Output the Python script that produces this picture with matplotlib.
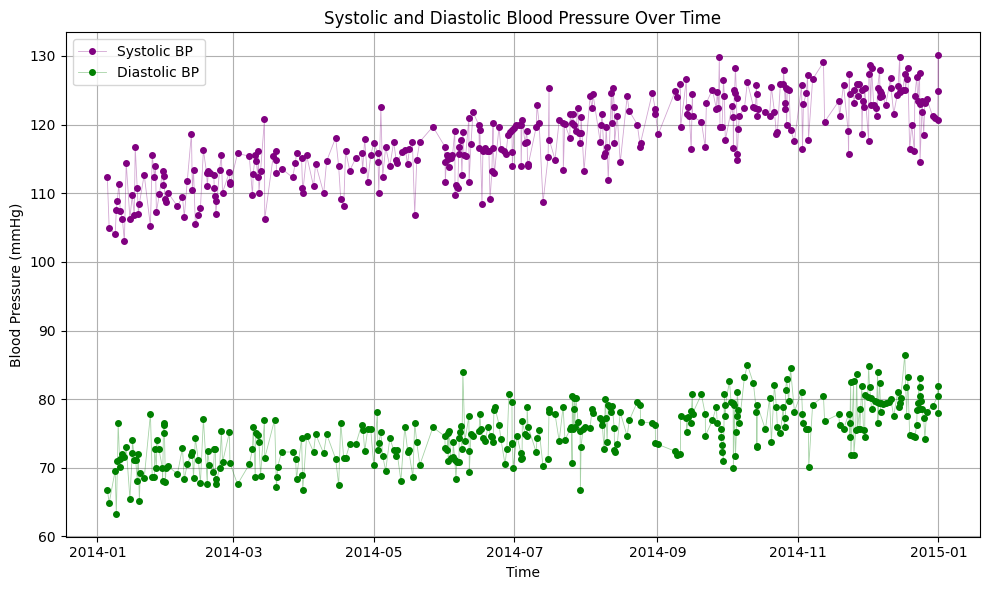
import matplotlib
matplotlib.use("Agg")
import matplotlib.pyplot as plt
import pandas as pd

# Day offsets from 2014-01-01 and readings (mmHg)
sys_days = [4.3, 5.1, 7.7, 8.2, 8.6, 9.3, 9.9, 10.8, 11.7, 12.5, 14.1, 15.1, 16.0, 16.4, 17.3, 17.8, 18.2,
            20.3, 23.0, 23.8, 24.7, 25.2, 25.6, 26.9, 28.3, 28.6, 28.9, 29.3, 29.8, 30.8, 34.7, 36.9, 37.7,
            39.0, 40.8, 41.2, 41.7, 42.5, 43.8, 44.7, 46.0, 47.4, 47.7, 48.2, 48.9, 50.5, 50.7, 51.1, 51.3,
            51.4, 53.0, 53.8, 54.3, 57.3, 57.5, 57.6, 60.8, 65.9, 67.3, 67.6, 68.5, 68.9, 69.7, 69.8, 70.1,
            70.8, 72.5, 72.6, 76.3, 77.4, 77.6, 77.7, 79.9, 84.7, 85.9, 86.4, 88.6, 89.0, 89.1, 90.8, 93.8,
            94.7, 98.2, 99.5, 103.4, 104.7, 105.6, 106.9, 107.7, 109.5, 112.1, 114.7, 115.1, 116.0, 117.3,
            118.6, 119.9, 121.7, 121.8, 122.1, 123.0, 123.8, 125.1, 126.9, 128.6, 129.6, 130.0, 132.2, 133.7,
            134.6, 135.4, 136.7, 137.7, 138.6, 139.9, 145.6, 150.8, 150.9, 151.0, 151.5, 152.0, 152.4, 153.3,
            154.1, 155.1, 155.2, 155.7, 156.1, 156.4, 156.9, 157.0, 157.7, 158.2, 158.6, 159.1, 159.8, 161.2,
            161.3, 162.1, 163.0, 165.6, 165.7, 166.0, 166.9, 167.3, 168.2, 169.1, 169.9, 170.4, 171.2, 171.7,
            171.8, 172.3, 174.3, 175.1, 176.4, 177.3, 178.2, 179.0, 179.9, 180.0, 180.1, 180.8, 181.7, 183.0,
            183.8, 183.9, 184.3, 185.6, 186.4, 186.5, 186.7, 187.0, 190.4, 190.8, 191.7, 193.4, 195.6, 196.0,
            196.1, 198.6, 200.4, 202.1, 202.2, 202.8, 205.0, 205.2, 205.9, 206.3, 206.7, 207.6, 208.5, 208.9,
            209.5, 209.8, 209.9, 211.2, 213.8, 214.7, 215.1, 218.2, 218.6, 219.0, 219.9, 220.4, 220.8, 221.2,
            221.7, 223.0, 223.4, 223.8, 224.3, 224.4, 225.6, 226.9, 229.9, 230.8, 234.3, 235.6, 235.7, 240.8,
            242.1, 242.2, 243.4, 250.8, 251.7, 253.0, 253.1, 255.6, 255.7, 256.4, 256.9, 257.7, 258.2, 258.3,
            262.1, 263.8, 264.3, 266.9, 268.6, 269.0, 269.5, 269.9, 270.2, 271.1, 271.7, 272.1, 272.5, 275.4,
            275.9, 276.0, 276.4, 276.5, 276.9, 277.4, 277.5, 277.6, 278.2, 278.6, 280.8, 282.1, 284.7, 285.6,
            286.0, 286.1, 286.4, 286.7, 289.9, 291.7, 292.5, 293.8, 294.7, 295.1, 296.4, 297.6, 297.8, 298.5,
            298.6, 298.7, 299.1, 299.4, 300.2, 300.8, 302.5, 305.6, 306.0, 306.4, 307.7, 308.2, 308.6, 310.4,
            315.1, 315.6, 321.7, 322.1, 323.8, 325.8, 326.0, 326.3, 326.4, 328.2, 328.3, 329.5, 329.9, 330.5,
            331.7, 331.8, 332.1, 332.5, 333.0, 334.7, 334.8, 335.1, 335.6, 336.0, 336.9, 337.7, 338.2, 338.6,
            339.5, 339.6, 339.8, 340.2, 340.7, 342.1, 344.3, 344.4, 345.6, 347.1, 347.5, 348.2, 348.3, 349.5,
            350.4, 350.7, 351.2, 351.7, 352.5, 353.4, 354.6, 354.7, 355.6, 356.0, 356.8, 356.9, 357.0, 357.8,
            357.9, 358.6, 359.1, 359.9, 362.5, 363.4, 364.7, 364.9, 365.0]
sys_vals = [112.3, 104.9, 104.0, 107.5, 108.9, 111.3, 107.4, 106.3, 103.0, 114.4, 106.3, 109.7, 106.8, 116.8, 110.7, 107.0, 108.5,
            112.7, 105.2, 115.6, 112.4, 114.0, 107.3, 109.9, 113.3, 111.2, 112.5, 109.2, 108.7, 110.0, 108.1, 109.5, 106.6,
            111.8, 118.7, 110.5, 113.4, 105.5, 106.8, 107.8, 116.3, 112.9, 111.1, 113.2, 112.9, 112.7, 110.8, 109.6, 108.9,
            107.0, 113.4, 115.6, 110.1, 113.1, 111.6, 111.3, 115.8, 115.4, 109.7, 112.8, 115.5, 114.7, 112.3, 116.2, 110.1,
            113.2, 120.8, 106.2, 115.4, 116.2, 114.9, 113.0, 113.6, 112.3, 114.4, 115.8, 115.1, 110.8, 110.1, 115.5, 111.0,
            114.3, 110.0, 114.7, 118.1, 113.9, 109.1, 108.2, 116.2, 113.3, 115.1, 115.8, 113.4, 117.9, 111.7,
            115.5, 117.3, 115.8, 114.6, 110.0, 122.5, 112.4, 116.7, 113.9, 117.5, 114.9, 114.4, 116.0, 116.3,
            114.2, 116.5, 117.4, 106.9, 114.9, 117.5, 119.7, 116.8, 114.6, 111.6, 115.5, 115.0, 113.8, 115.1,
            115.5, 119.1, 109.8, 111.2, 110.9, 110.7, 116.8, 115.7, 117.8, 112.6, 118.9, 115.6, 115.4, 120.9,
            111.7, 117.1, 121.8, 119.9, 116.6, 119.2, 108.5, 116.1, 116.6, 116.1, 116.1, 109.1, 113.2, 120.2,
            116.6, 112.9, 119.7, 116.5, 116.2, 115.7, 118.5, 118.9, 119.2, 116.0, 113.9, 119.5, 119.9, 120.0,
            120.0, 113.9, 120.7, 117.3, 119.1, 117.5, 113.9, 114.2, 119.6, 122.9, 120.2, 108.7, 115.3, 125.4,
            117.8, 114.9, 120.6, 120.2, 113.4, 120.1, 118.1, 121.5, 120.2, 121.6, 120.0, 119.0, 122.4, 118.8,
            117.3, 118.8, 121.1, 113.3, 124.1, 122.4, 124.4, 117.5, 120.0, 121.5, 115.4, 115.8, 119.7, 116.8,
            112.0, 124.6, 120.3, 125.3, 122.6, 117.3, 121.3, 114.5, 124.1, 122.0, 120.0, 116.8, 117.3, 124.6,
            122.3, 121.5, 118.6, 124.9, 124.0, 125.9, 119.6, 126.6, 121.5, 122.5, 121.3, 116.4, 124.5, 121.2,
            120.4, 116.7, 123.2, 125.1, 122.3, 124.8, 122.4, 129.9, 119.6, 119.6, 126.5, 124.1, 117.7, 122.7,
            121.1, 116.6, 125.1, 124.6, 128.3, 123.9, 115.7, 114.8, 119.4, 121.3, 122.4, 126.2, 122.6, 122.4,
            125.8, 124.4, 121.2, 122.3, 121.9, 121.2, 125.5, 121.9, 118.6, 118.9, 125.9, 125.9, 127.9, 123.1,
            122.3, 125.4, 120.0, 125.2, 125.0, 119.2, 117.6, 125.7, 116.4, 123.0, 124.6, 127.2, 117.8, 126.6,
            129.1, 120.4, 123.4, 121.2, 125.8, 119.1, 115.7, 127.3, 124.4, 125.0, 123.1, 125.9, 124.1, 125.9,
            125.0, 118.7, 123.5, 122.5, 125.3, 117.6, 127.3, 128.7, 122.9, 128.2, 122.9, 122.4, 121.2, 125.3,
            128.0, 124.9, 124.0, 124.6, 124.2, 122.9, 126.8, 125.4, 121.6, 124.3, 125.6, 129.9, 124.8, 125.0,
            127.3, 125.0, 126.6, 128.2, 116.5, 119.9, 116.1, 124.1, 126.9, 123.5, 127.5, 123.0, 114.5, 121.8,
            123.5, 118.5, 123.2, 123.8, 121.2, 120.9, 120.6, 130.1, 124.9]

dia_days = [4.3, 5.1, 7.7, 8.2, 8.7, 9.0, 9.6, 9.9, 10.8, 11.7, 12.5, 14.1, 15.1, 15.2, 16.0, 16.6, 17.3, 17.7,
            18.2, 18.6, 20.3, 23.0, 23.8, 24.7, 24.8, 25.6, 25.7, 26.7, 28.2, 28.3, 28.7, 29.0, 29.1, 29.5, 29.8,
            30.8, 34.7, 36.9, 37.7, 39.0, 40.8, 41.2, 41.7, 42.5, 43.8, 44.7, 46.0, 47.7, 47.8, 48.6, 50.3, 50.8,
            51.2, 51.3, 51.4, 53.0, 53.8, 54.3, 57.3, 57.5, 60.8, 65.9, 67.3, 67.6, 68.5, 68.7, 69.5, 70.1, 70.8,
            72.5, 72.6, 76.9, 77.7, 78.0, 78.2, 79.9, 84.7, 86.0, 86.4, 88.6, 89.0, 89.1, 90.8, 93.8, 94.7, 98.2,
            99.5, 103.4, 104.7, 105.6, 106.9, 107.7, 109.5, 112.1, 114.7, 115.3, 116.0, 117.3, 118.6, 119.9,
            121.5, 121.7, 122.1, 123.0, 123.8, 125.1, 126.9, 128.6, 129.5, 129.9, 131.7, 133.4, 134.7, 135.1,
            136.9, 137.7, 138.6, 139.9, 145.6, 150.8, 150.9, 151.7, 152.1, 152.2, 152.5, 153.4, 154.3, 154.4,
            155.1, 155.6, 156.0, 156.9, 157.0, 157.5, 157.7, 158.2, 158.6, 159.5, 161.2, 161.3, 161.4, 162.1,
            163.0, 165.6, 166.0, 166.4, 167.3, 168.2, 169.5, 170.8, 171.2, 171.7, 172.1, 172.5, 174.3, 175.1,
            176.9, 177.7, 178.6, 179.9, 180.0, 180.1, 180.4, 182.1, 183.8, 183.9, 184.3, 184.4, 185.6, 186.4,
            186.5, 186.9, 190.4, 190.8, 191.7, 193.4, 195.6, 196.0, 196.1, 198.6, 200.4, 202.1, 202.9, 205.2,
            205.7, 206.0, 206.1, 206.6, 206.9, 207.0, 207.1, 207.7, 208.6, 209.5, 209.6, 209.9, 210.7, 211.7,
            213.8, 214.7, 215.1, 218.2, 219.0, 219.1, 219.9, 220.4, 220.8, 221.2, 221.7, 222.5, 223.0, 223.4,
            224.3, 224.4, 224.5, 225.6, 226.9, 229.9, 230.8, 234.3, 235.6, 235.7, 240.8, 242.1, 242.2, 243.4,
            250.8, 251.7, 253.0, 253.1, 255.6, 255.7, 256.4, 257.7, 257.8, 258.2, 258.3, 262.1, 263.8, 263.9,
            266.9, 268.6, 269.0, 270.7, 270.8, 271.1, 271.2, 271.7, 272.1, 272.4, 272.5, 274.3, 275.0, 275.9,
            276.0, 276.4, 276.9, 277.3, 277.5, 277.7, 278.2, 278.6, 280.8, 282.1, 284.7, 286.0, 286.1, 286.3,
            286.4, 289.9, 291.7, 292.5, 293.8, 294.7, 295.1, 296.4, 297.6, 298.2, 298.6, 298.7, 299.1, 300.0,
            300.8, 302.5, 305.6, 306.0, 306.4, 307.7, 308.6, 308.7, 310.4, 315.1, 315.6, 321.7, 322.1, 323.8,
            326.0, 326.4, 326.5, 326.9, 327.0, 328.2, 328.3, 329.1, 329.5, 329.9, 330.8, 330.9, 331.7, 332.5,
            333.0, 333.1, 334.3, 334.7, 335.1, 335.6, 336.0, 337.3, 338.2, 338.6, 338.7, 339.0, 339.5, 339.9,
            340.0, 340.9, 342.1, 343.4, 344.3, 345.6, 347.3, 347.7, 348.2, 348.6, 350.4, 350.8, 351.2, 351.7,
            352.5, 353.8, 354.7, 355.6, 355.7, 356.0, 356.9, 357.0, 357.1, 357.2, 357.3, 357.8, 358.6, 359.1,
            359.9, 362.5, 364.7, 364.9, 365.0]
dia_vals = [66.8, 64.9, 69.6, 63.3, 71.0, 76.6, 71.3, 70.1, 72.0, 71.6, 73.0, 65.5, 72.1, 74.1, 71.2, 71.1, 68.1, 72.0,
            65.2, 69.3, 68.5, 77.8, 68.6, 68.7, 72.8, 69.9, 74.0, 72.7, 70.0, 68.1, 76.5, 76.2, 75.0, 67.9, 70.0,
            70.2, 69.1, 72.9, 68.3, 70.6, 71.9, 72.3, 68.5, 74.3, 71.1, 67.8, 77.1, 67.6, 72.5, 70.4, 69.4, 72.8,
            72.8, 68.3, 67.6, 70.0, 75.3, 70.8, 75.2, 70.7, 67.6, 70.5, 72.7, 75.9, 68.7, 75.1, 74.8, 73.8, 68.8,
            77.0, 71.4, 77.0, 67.2, 68.7, 70.1, 72.3, 72.3, 71.3, 68.4, 74.3, 68.9, 66.8, 74.6, 72.3, 74.9, 72.1,
            74.9, 71.3, 67.5, 76.6, 71.4, 71.4, 73.4, 73.4, 76.3, 75.5, 72.4, 75.6, 75.7, 70.4,
            78.1, 72.6, 73.6, 75.2, 71.7, 69.6, 74.3, 72.6, 71.7, 72.6, 68.1, 76.0, 72.3, 72.6,
            68.6, 76.6, 73.7, 70.4, 75.9, 74.6, 72.9, 72.6, 75.1, 71.0, 75.4, 71.4, 71.6, 73.7,
            71.2, 68.4, 70.8, 70.8, 74.3, 75.2, 76.1, 72.8, 83.9, 73.9, 77.5, 72.4, 69.4, 74.9,
            74.6, 75.3, 77.9, 75.6, 74.4, 73.9, 75.9, 74.6, 74.5, 73.7, 78.4, 78.8, 76.3, 74.2,
            70.5, 72.8, 80.8, 79.6, 73.6, 73.4, 70.0, 74.7, 72.1, 71.3, 71.5, 76.8, 74.9, 74.7,
            78.8, 76.0, 72.3, 74.3, 75.5, 70.2, 71.3, 78.6, 78.1, 77.8, 73.9, 78.9, 74.1, 75.6,
            76.0, 70.7, 80.4, 75.7, 80.1, 78.5, 75.9, 80.2, 76.7, 75.4, 66.8, 73.0, 75.6, 75.9,
            75.8, 78.6, 78.0, 77.2, 76.9, 76.3, 72.7, 80.0, 77.2, 73.8, 79.1, 78.8, 78.2, 79.0,
            75.8, 72.6, 72.3, 73.4, 78.1, 74.6, 76.9, 79.6, 79.1, 76.7, 76.5, 76.2, 73.6, 73.4,
            72.4, 71.9, 72.0, 77.5, 77.3, 75.2, 77.4, 76.5, 78.3, 80.8, 77.9, 80.7, 77.8, 74.7,
            76.9, 78.9, 76.5, 75.7, 74.5, 73.3, 72.3, 71.0, 80.8, 77.5, 79.1, 82.6, 79.6, 79.4,
            70.0, 79.1, 71.7, 75.2, 77.6, 81.1, 78.4, 76.5, 83.2, 85.0, 82.3, 78.2, 73.0, 73.2,
            79.1, 75.6, 80.1, 73.8, 82.0, 78.9, 75.9, 75.0, 78.8, 76.0, 77.2, 81.4, 82.9, 79.7,
            84.5, 78.2, 81.1, 77.9, 76.5, 75.6, 75.6, 70.1, 79.2, 80.4, 76.8, 77.8, 76.3, 75.6,
            77.8, 76.5, 74.5, 82.5, 71.8, 82.6, 71.9, 75.5, 83.6, 75.7, 78.5, 75.6, 81.9, 75.5,
            74.5, 80.6, 80.3, 84.8, 81.7, 80.2, 78.5, 79.8, 79.6, 84.0, 76.5, 79.4, 82.4, 78.1,
            79.4, 79.3, 79.4, 79.6, 80.0, 77.5, 81.1, 78.8, 79.4, 80.1, 86.5, 81.7, 77.6, 83.2,
            74.8, 74.7, 74.5, 76.2, 78.4, 79.4, 83.1, 81.7, 80.5, 78.6, 79.7, 78.5, 77.3, 74.2,
            78.2, 79.0, 80.4, 81.9, 78.0]

start = pd.Timestamp("2014-01-01")
sys_t = start + pd.to_timedelta(sys_days, unit="D")
dia_t = start + pd.to_timedelta(dia_days, unit="D")

fig, ax = plt.subplots(figsize=(10, 6), dpi=100)
ax.plot(sys_t, sys_vals, marker="o", markersize=4, linewidth=0.6,
        color=(0.5, 0.0, 0.5, 0.35), markerfacecolor="purple", markeredgecolor="purple",
        label="Systolic BP")
ax.plot(dia_t, dia_vals, marker="o", markersize=4, linewidth=0.6,
        color=(0.0, 0.5, 0.0, 0.35), markerfacecolor="green", markeredgecolor="green",
        label="Diastolic BP")
ax.set_title("Systolic and Diastolic Blood Pressure Over Time")
ax.set_xlabel("Time")
ax.set_ylabel("Blood Pressure (mmHg)")
ax.grid(True)
ax.legend(loc="upper left")
fig.tight_layout()
fig.savefig("out.png", dpi=100, bbox_inches="tight")
